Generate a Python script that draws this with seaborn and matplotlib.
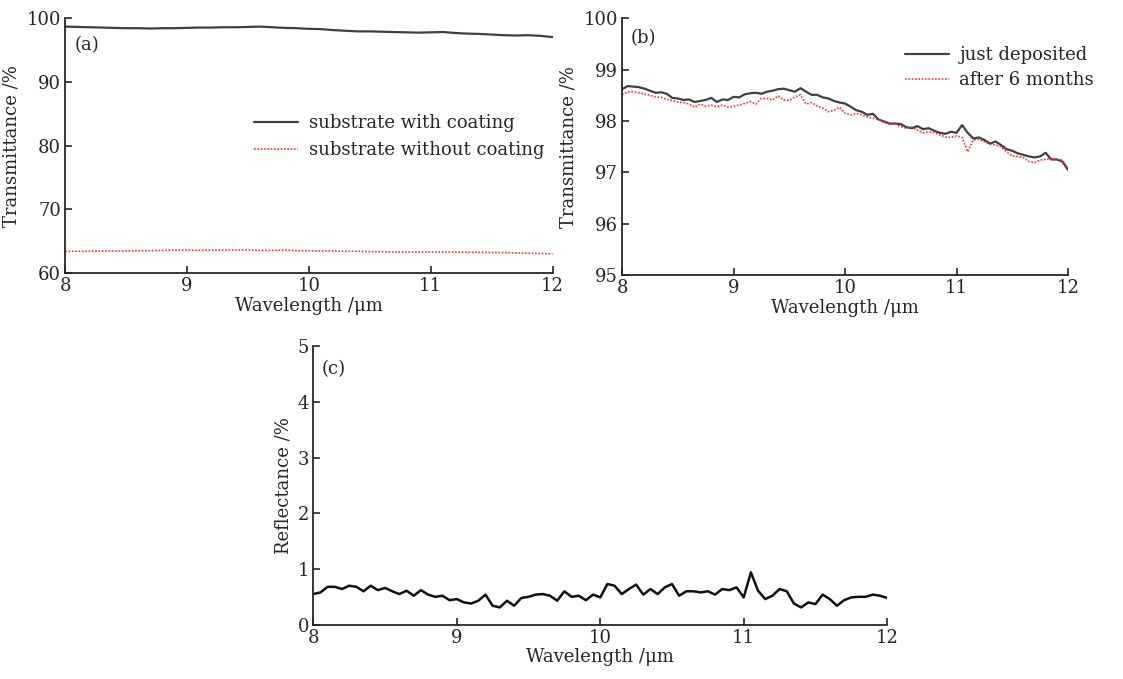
import numpy as np
import pandas as pd
import matplotlib
matplotlib.use("Agg")
import matplotlib.pyplot as plt
import seaborn as sns

# ---------------- data ----------------
wl_a = np.round(np.arange(8.0, 12.0001, 0.1), 2)
coated_a = [98.7, 98.65, 98.6, 98.55, 98.5, 98.45, 98.45, 98.4, 98.45, 98.45,
            98.5, 98.55, 98.55, 98.6, 98.6, 98.65, 98.7, 98.6, 98.5, 98.45,
            98.35, 98.3, 98.15, 98.05, 97.95, 97.95, 97.9, 97.85, 97.8, 97.75,
            97.8, 97.85, 97.7, 97.6, 97.55, 97.45, 97.35, 97.3, 97.35, 97.25,
            97.05]
uncoated_a = [63.4, 63.4, 63.4, 63.45, 63.45, 63.45, 63.5, 63.5, 63.55, 63.6,
              63.6, 63.55, 63.6, 63.6, 63.6, 63.65, 63.55, 63.55, 63.6, 63.5,
              63.5, 63.45, 63.45, 63.4, 63.4, 63.35, 63.35, 63.3, 63.3, 63.3,
              63.3, 63.3, 63.3, 63.25, 63.25, 63.2, 63.2, 63.15, 63.1, 63.05,
              63.0]

wl_b = np.round(np.arange(8.0, 12.0001, 0.05), 2)
just_deposited = [98.62, 98.68, 98.67, 98.66, 98.63, 98.59, 98.55, 98.56, 98.53, 98.45,
                  98.44, 98.41, 98.42, 98.37, 98.39, 98.41, 98.45, 98.37, 98.42, 98.41,
                  98.47, 98.46, 98.52, 98.54, 98.55, 98.53, 98.57, 98.59, 98.62, 98.63,
                  98.60, 98.57, 98.64, 98.57, 98.51, 98.51, 98.46, 98.44, 98.39, 98.36,
                  98.34, 98.28, 98.21, 98.18, 98.12, 98.14, 98.03, 97.99, 97.95, 97.95,
                  97.94, 97.88, 97.86, 97.90, 97.84, 97.86, 97.81, 97.77, 97.75, 97.79,
                  97.77, 97.92, 97.77, 97.66, 97.68, 97.63, 97.56, 97.60, 97.53, 97.45,
                  97.42, 97.37, 97.34, 97.31, 97.29, 97.31, 97.38, 97.25, 97.25, 97.21,
                  97.05]
after_6_months = [98.51, 98.57, 98.57, 98.55, 98.53, 98.50, 98.47, 98.46, 98.42, 98.40,
                  98.37, 98.36, 98.33, 98.27, 98.33, 98.29, 98.31, 98.28, 98.31, 98.27,
                  98.29, 98.31, 98.34, 98.38, 98.33, 98.44, 98.44, 98.41, 98.49, 98.41,
                  98.40, 98.47, 98.51, 98.33, 98.36, 98.29, 98.25, 98.18, 98.21, 98.27,
                  98.15, 98.12, 98.15, 98.12, 98.08, 98.05, 98.03, 97.97, 97.94, 97.94,
                  97.89, 97.86, 97.88, 97.82, 97.77, 97.79, 97.77, 97.73, 97.69, 97.68,
                  97.71, 97.68, 97.40, 97.63, 97.64, 97.60, 97.55, 97.53, 97.50, 97.40,
                  97.32, 97.31, 97.29, 97.21, 97.19, 97.24, 97.25, 97.27, 97.25, 97.24,
                  97.08]

wl_c = wl_b
reflectance = [0.55, 0.58, 0.68, 0.68, 0.64, 0.70, 0.68, 0.60, 0.70, 0.62,
               0.66, 0.60, 0.55, 0.61, 0.52, 0.62, 0.54, 0.50, 0.52, 0.44,
               0.46, 0.40, 0.38, 0.43, 0.54, 0.34, 0.31, 0.43, 0.34, 0.48,
               0.50, 0.54, 0.55, 0.52, 0.43, 0.60, 0.50, 0.52, 0.44, 0.54,
               0.49, 0.73, 0.70, 0.55, 0.64, 0.72, 0.54, 0.64, 0.55, 0.67,
               0.73, 0.52, 0.60, 0.60, 0.58, 0.60, 0.54, 0.64, 0.62, 0.67,
               0.49, 0.94, 0.61, 0.46, 0.52, 0.64, 0.60, 0.38, 0.31, 0.40,
               0.37, 0.54, 0.46, 0.34, 0.44, 0.49, 0.50, 0.50, 0.54, 0.52,
               0.48]

xticks = [8, 9, 10, 11, 12]

# ---------------- style ----------------
sns.set_style("ticks")
plt.rcParams["font.family"] = ["DejaVu Serif"]
plt.rcParams["font.size"] = 13
plt.rcParams["xtick.direction"] = "in"
plt.rcParams["ytick.direction"] = "in"
plt.rcParams["xtick.major.size"] = 5
plt.rcParams["ytick.major.size"] = 5

black = "#404040"
red = "#ff3030"

fig = plt.figure(figsize=(11.23, 6.79), dpi=100)
ax_a = fig.add_axes([0.058, 0.598, 0.434, 0.375])
ax_b = fig.add_axes([0.554, 0.595, 0.397, 0.378])
ax_c = fig.add_axes([0.279, 0.080, 0.511, 0.410])

# (a)
df_a = pd.DataFrame({"wl": wl_a, "coat": coated_a, "nocoat": uncoated_a})
sns.lineplot(data=df_a, x="wl", y="coat", ax=ax_a, color=black, lw=1.6,
             label="substrate with coating")
sns.lineplot(data=df_a, x="wl", y="nocoat", ax=ax_a, color=red, lw=1.2,
             ls=(0, (1, 1)), label="substrate without coating")
ax_a.set_ylim(60, 100)
ax_a.set_yticks([60, 70, 80, 90, 100])
ax_a.set_ylabel("Transmittance /%", labelpad=4)
ax_a.legend(loc="center left", bbox_to_anchor=(0.355, 0.535), frameon=False,
            handlelength=2.4, handletextpad=0.6, fontsize=13, labelspacing=0.5)
ax_a.text(0.02, 0.93, "(a)", transform=ax_a.transAxes, va="top", ha="left")

# (b)
df_b = pd.DataFrame({"wl": wl_b, "jd": just_deposited, "a6": after_6_months})
sns.lineplot(data=df_b, x="wl", y="jd", ax=ax_b, color=black, lw=1.6,
             label="just deposited")
sns.lineplot(data=df_b, x="wl", y="a6", ax=ax_b, color=red, lw=1.2,
             ls=(0, (1, 1)), label="after 6 months")
ax_b.set_ylim(95, 100)
ax_b.set_yticks([95, 96, 97, 98, 99, 100])
ax_b.set_ylabel("Transmittance /%", labelpad=4)
ax_b.legend(loc="upper right", bbox_to_anchor=(1.095, 0.955), frameon=False,
            handlelength=2.4, handletextpad=0.6, fontsize=13, labelspacing=0.4)
ax_b.text(0.02, 0.96, "(b)", transform=ax_b.transAxes, va="top", ha="left")

# (c)
df_c = pd.DataFrame({"wl": wl_c, "r": reflectance})
sns.lineplot(data=df_c, x="wl", y="r", ax=ax_c, color="#111111", lw=1.8)
ax_c.set_ylim(0, 5)
ax_c.set_yticks([0, 1, 2, 3, 4, 5])
ax_c.set_ylabel("Reflectance /%", labelpad=4)
ax_c.text(0.015, 0.95, "(c)", transform=ax_c.transAxes, va="top", ha="left")

for ax in (ax_a, ax_b, ax_c):
    ax.set_xlim(8, 12)
    ax.set_xticks(xticks)
    ax.set_xlabel("Wavelength /μm", labelpad=1)
    sns.despine(ax=ax)
    ax.spines["left"].set_linewidth(1.3)
    ax.spines["bottom"].set_linewidth(1.3)
    ax.tick_params(width=1.2, pad=3)

fig.savefig("out.png", dpi=100)
